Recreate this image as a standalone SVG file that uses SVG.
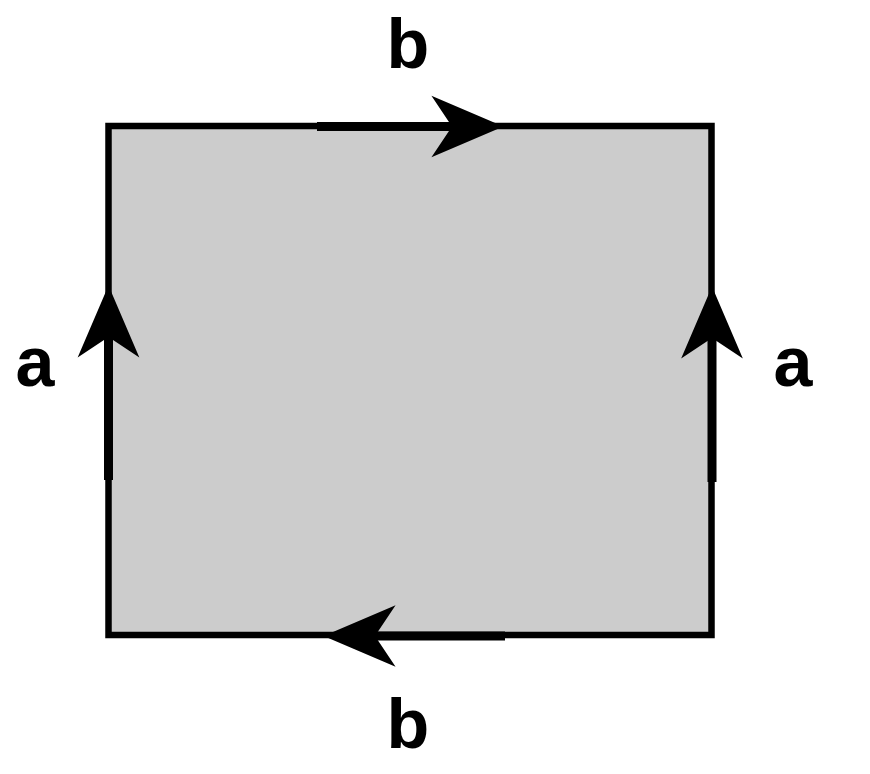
<svg xmlns="http://www.w3.org/2000/svg" width="870" height="774" viewBox="0 0 870 774">
  <style>
    .edge { fill: #cccccc; stroke: #000; stroke-width: 6.5; stroke-linejoin: miter; }
    .arrow { fill: none; stroke: #000; stroke-width: 9; stroke-linecap: butt; marker-end: url(#head); }
    .label { font-family: "Liberation Sans", Arial, sans-serif; font-size: 70px; font-weight: bold; fill: #000; text-anchor: middle; }
  </style>
  <defs>
    <marker id="head" markerUnits="userSpaceOnUse" orient="auto" markerWidth="80" markerHeight="70" viewBox="-20 -30 70 60" refX="0" refY="0" overflow="visible">
      <path d="M45,0 L-18,-27 L0,0 L-18,27 Z" fill="#000"/>
    </marker>
  </defs>
  <rect width="870" height="774" fill="#fff"/>
  <g id="square">
    <rect class="edge" x="108.5" y="126" width="603" height="509"/>
  </g>
  <g id="connectors">
    <line class="arrow" x1="317" y1="126.5" x2="452" y2="126.5"/>
    <line class="arrow" x1="505" y1="636" x2="375" y2="636"/>
    <line class="arrow" x1="108.5" y1="480" x2="108.5" y2="337"/>
    <line class="arrow" x1="712" y1="482" x2="712" y2="338"/>
  </g>
  <g id="labels">
    <text class="label" x="408" y="68">b</text>
    <text class="label" x="408" y="748">b</text>
    <text class="label" x="35" y="386">a</text>
    <text class="label" x="793" y="386">a</text>
  </g>
</svg>
